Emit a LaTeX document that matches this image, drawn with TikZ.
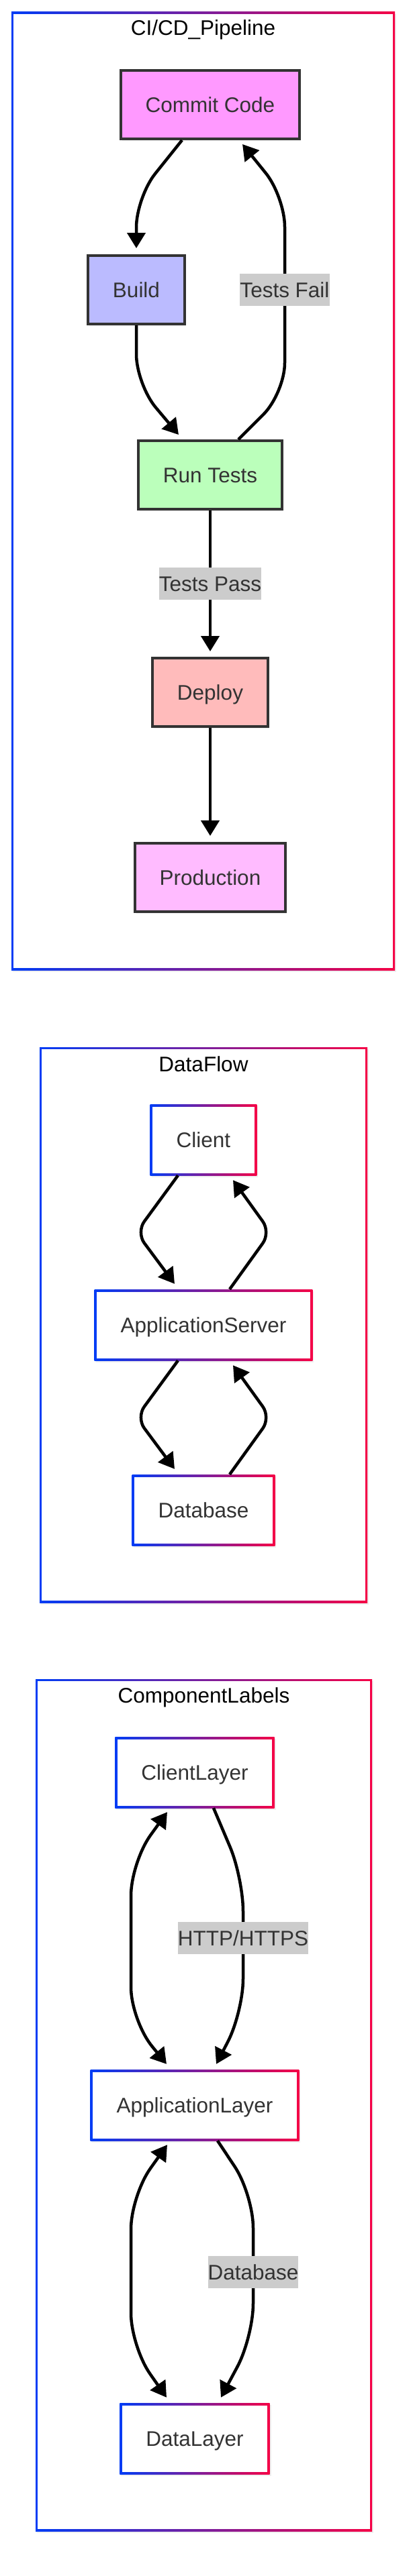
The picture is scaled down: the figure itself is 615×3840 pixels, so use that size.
\documentclass[tikz,border=0pt]{standalone}
\usepackage{fontspec}
\setmainfont{Liberation Sans}
\usetikzlibrary{arrows.meta,shadows,calc}
\definecolor{gblue}{RGB}{0,60,245}
\definecolor{gred}{RGB}{245,0,70}
\definecolor{txt}{HTML}{333333}
\definecolor{lblbg}{HTML}{CCCCCC}
\definecolor{cpink}{HTML}{FF99FF}
\definecolor{cblue}{HTML}{BBBBFF}
\definecolor{cgreen}{HTML}{BBFFBB}
\definecolor{cred}{HTML}{FFBBBB}
\definecolor{cprod}{HTML}{FFBBFF}
\tikzset{
 softshadow/.style={drop shadow={opacity=0.12, shadow xshift=2pt, shadow yshift=-3pt}},
 txtbase/.style={font=\fontsize{31.5pt}{38pt}\selectfont, text=txt, text height=22.6pt, text depth=0pt},
 stepbox/.style={txtbase, draw=txt, line width=4pt, minimum height=102pt, inner xsep=37pt, inner ysep=0pt, softshadow},
 gradborder/.style={path picture={
   \shade[left color=gblue,right color=gred] (path picture bounding box.south west) rectangle (path picture bounding box.north east);
   \fill[white] ([shift={(#1,#1)}]path picture bounding box.south west) rectangle ([shift={(-#1,-#1)}]path picture bounding box.north east);}},
 gradbox/.style={txtbase, fill=white, minimum height=106pt, inner xsep=39pt, inner ysep=0pt, gradborder=3.5pt, softshadow},
 groupframe/.style={fill=white, inner sep=0pt, gradborder=3pt, softshadow},
 lbl/.style={txtbase, sharp corners, fill=lblbg, inner xsep=0pt, inner ysep=0pt, minimum height=48pt},
 grouptitle/.style={font=\fontsize{31.5pt}{38pt}\selectfont, text=black, anchor=base},
 arr/.style={line width=4.5pt, -{Triangle[length=23pt,width=27pt]}},
 barr/.style={line width=4.5pt, {Triangle[length=23pt,width=27pt]}-{Triangle[length=23pt,width=27pt]}}
}
\begin{document}
\begin{tikzpicture}[x=1pt,y=-1pt]
\useasboundingbox[fill=white] (0,0) rectangle (615,3840);

% ---------- CI/CD_Pipeline ----------
\node[groupframe, minimum width=571pt, minimum height=1428pt] (f1) at (302.5,732) {};
\node[grouptitle] (t1) at (302.5,53) {CI/CD\_Pipeline};
\node[stepbox, fill=cpink] (commit) at (313,156) {Commit Code};
\node[stepbox, fill=cblue] (build) at (203,432) {Build};
\node[stepbox, fill=cgreen] (run) at (313,708) {Run Tests};
\node[stepbox, fill=cred] (deploy) at (313,1032) {Deploy};
\node[stepbox, fill=cprod] (prod) at (313,1308) {Production};

\draw[arr, rounded corners=45pt] ([xshift=-42pt]commit.south) -- (203,294) -- ([yshift=9pt]build.north);
\draw[arr, rounded corners=45pt] (build.south) -- (203,573) -- ([xshift=-47pt,yshift=7pt]run.north);
\draw[arr, rounded corners=45pt] ([xshift=42pt]run.north) -- (424,586) -- node[lbl,pos=0.526]{Tests Fail} (424,293) -- ([xshift=48pt,yshift=-6pt]commit.south);
\draw[arr] (run.south) -- node[lbl,pos=0.52]{Tests Pass} ([yshift=8pt]deploy.north);
\draw[arr] (deploy.south) -- ([yshift=9pt]prod.north);

% ---------- DataFlow ----------
\node[groupframe, minimum width=488pt, minimum height=828pt] (f2) at (303,1975) {};
\node[grouptitle] (t2) at (303,1597) {DataFlow};
\node[gradbox] (client) at (303,1699) {Client};
\node[gradbox] (appsrv) at (303,1975) {ApplicationServer};
\node[gradbox] (db) at (303,2251) {Database};

\draw[arr, rounded corners=20pt] ([xshift=-38pt]client.south) -- (203,1837) -- ([xshift=-43pt,yshift=8pt]appsrv.north);
\draw[arr, rounded corners=20pt] ([xshift=39pt]appsrv.north) -- (403,1837) -- ([xshift=44pt,yshift=-7pt]client.south);
\draw[arr, rounded corners=20pt] ([xshift=-38pt]appsrv.south) -- (203,2113) -- ([xshift=-43pt,yshift=8pt]db.north);
\draw[arr, rounded corners=20pt] ([xshift=39pt]db.north) -- (403,2113) -- ([xshift=44pt,yshift=-7pt]appsrv.south);

% ---------- ComponentLabels ----------
\node[groupframe, minimum width=501pt, minimum height=1270pt] (f3) at (303.5,3138) {};
\node[grouptitle] (t3) at (303.5,2538) {ComponentLabels};
\node[gradbox] (cl) at (290,2642) {ClientLayer};
\node[gradbox] (al) at (290,3138) {ApplicationLayer};
\node[gradbox] (dl) at (290,3635) {DataLayer};

\draw[barr, rounded corners=50pt] ([xshift=-41pt,yshift=-6pt]cl.south) -- (195,2776) -- (195,3012) -- ([xshift=-42pt,yshift=8pt]al.north);
\draw[arr, rounded corners=50pt] ([xshift=28pt]cl.south) -- (362,2799) -- node[lbl,pos=0.45]{HTTP/HTTPS} (362,3000) -- ([xshift=32pt,yshift=8pt]al.north);
\draw[barr, rounded corners=50pt] ([xshift=-41pt,yshift=-6pt]al.south) -- (195,3273) -- (195,3498) -- ([xshift=-42pt,yshift=8pt]dl.north);
\draw[arr, rounded corners=50pt] ([xshift=34pt]al.south) -- (377,3271) -- node[lbl,pos=0.545]{Database} (377,3484) -- ([xshift=39pt,yshift=8pt]dl.north);
\end{tikzpicture}
\end{document}
